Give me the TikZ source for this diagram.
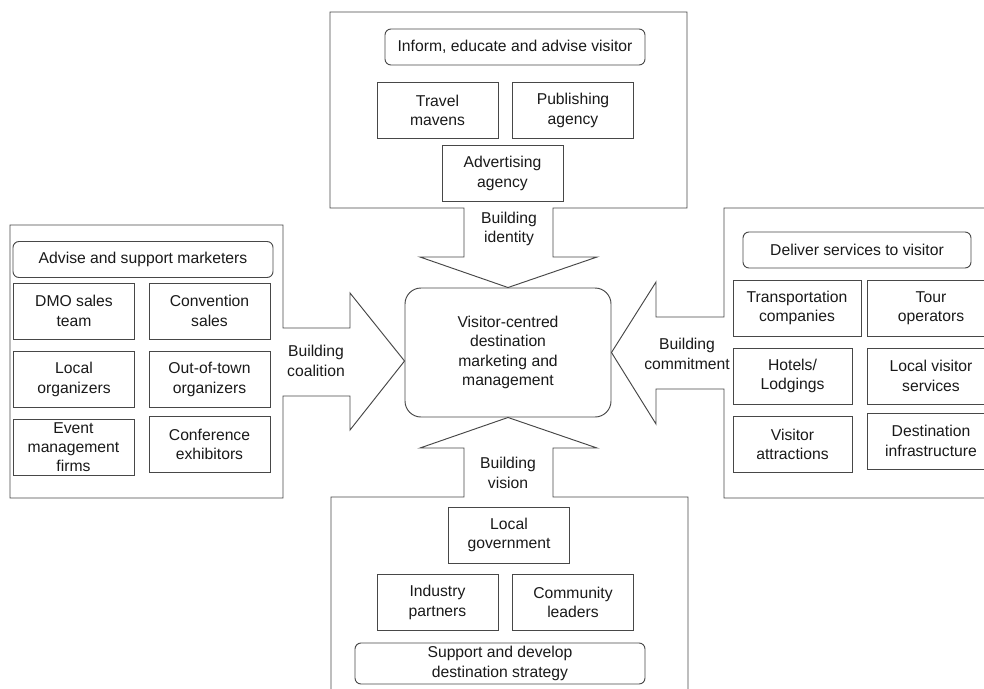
\documentclass[tikz,border=0pt]{standalone}
\usepackage{fontspec}
\setmainfont{Liberation Sans}

\begin{document}
\begin{tikzpicture}[x=1pt,y=-1pt,line width=.95pt,color=black!72,
every node/.style={align=center,text=black!90,inner sep=2pt,font=\fontsize{15.7}{19.5}\selectfont},
box/.style={draw,minimum width=121pt,minimum height=56pt},
hdr/.style={draw,rounded corners=6pt,minimum height=36pt}]
\useasboundingbox (0,0) rectangle (984,688);
\node[draw,rounded corners=16pt,minimum width=206pt,minimum height=129pt] (hub) at (508,352.5) {Visitor-centred\\destination\\marketing and\\management};
% top
\node[hdr,minimum width=260pt] (T0) at (515,47) {Inform, educate and advise visitor};
\node[box] (T1) at (437.5,110.5) {Travel\\mavens};
\node[box] (T2) at (573,110.5) {Publishing\\agency};
\node[box] (T3) at (502.5,173.5) {Advertising\\agency};
\draw (330,12)--(687,12)--(687,208)--(553,208)--(553,257)--(597,257)--(hub.north)
  --(420,257)--(464,257)--(464,208)--(330,208)--cycle;
\node (TA) at (509,229) {Building\\identity};
% left
\node[hdr,minimum width=260pt] (L0) at (143,259.5) {Advise and support marketers};
\node[box] (L1) at (74,311) {DMO sales\\team};
\node[box] (L2) at (209.5,311) {Convention\\sales};
\node[box] (L3) at (74,379.5) {Local\\organizers};
\node[box] (L4) at (209.5,379.5) {Out-of-town\\organizers};
\node[box,font=\fontsize{15.7}{19}\selectfont] (L5) at (73.5,447.5) {Event\\management\\firms};
\node[box] (L6) at (209.5,444.5) {Conference\\exhibitors};
\draw (10,225)--(283,225)--(283,328)--(350,328)--(350,293)--(hub.west |- 0,361)
  --(350,430)--(350,396)--(283,396)--(283,498)--(10,498)--cycle;
\node (LA) at (316,361) {Building\\coalition};
% right
\node[hdr,minimum width=228pt] (R0) at (857,250) {Deliver services to visitor};
\node[box,minimum width=128pt] (R1) at (797,308) {Transportation\\companies};
\node[box,minimum width=128pt] (R2) at (931,308) {Tour\\operators};
\node[box,minimum width=119pt] (R3) at (792.5,376) {Hotels/\\Lodgings};
\node[box,minimum width=128pt] (R4) at (931,376) {Local visitor\\services};
\node[box,minimum width=119pt] (R5) at (792.5,444.5) {Visitor\\attractions};
\node[box,minimum width=128pt] (R6) at (931,441) {Destination\\infrastructure};
\draw (995,208)--(724,208)--(724,317)--(656,317)--(656,282)--(hub.east)
  --(656,424)--(656,389)--(724,389)--(724,498)--(995,498);
\node (RA) at (687,354) {Building\\commitment};
% bottom
\node (BA) at (508,473) {Building\\vision};
\node[box] (B1) at (509,535) {Local\\government};
\node[box] (B2) at (437.5,602.5) {Industry\\partners};
\node[box] (B3) at (573,602.5) {Community\\leaders};
\node[hdr,minimum width=290pt,minimum height=41pt] (B0) at (500,663.5) {Support and develop\\destination strategy};
\draw (331,695)--(331,497)--(464,497)--(464,448)--(420,448)--(hub.south)
  --(597,448)--(553,448)--(553,497)--(688,497)--(688,695);
\end{tikzpicture}
\end{document}
